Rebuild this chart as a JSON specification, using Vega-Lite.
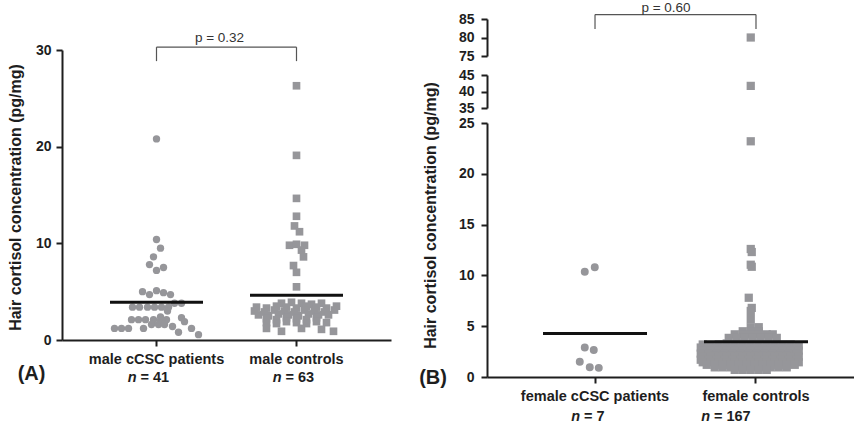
{
"$schema": "https://vega.github.io/schema/vega-lite/v6.json",
"background": "white",
"padding": {"left": 7, "top": 1, "right": 0, "bottom": 0},
"bounds": "flush",
"spacing": 96,
"config": {
  "font": "Liberation Sans",
  "view": {"stroke": null},
  "axis": {"grid": false, "domainColor": "#1e1e1e", "tickColor": "#1e1e1e", "labelColor": "#1e1e1e", "titleColor": "#1e1e1e", "domainWidth": 2, "tickWidth": 2, "tickSize": 6, "labelFont": "Liberation Sans", "titleFont": "Liberation Sans", "labelFontWeight": "bold", "titleFontWeight": "bold"},
  "axisX": {"labelFontSize": 14.5, "labelPadding": 6, "labelAngle": 0, "labelOverlap": false},
  "axisY": {"labelFontSize": 14, "titleFontSize": 16}
},
"datasets": {
  "A": [
    {"group":"male cCSC patients","cortisol":20.8,"jitter":0},
    {"group":"male cCSC patients","cortisol":10.4,"jitter":0},
    {"group":"male cCSC patients","cortisol":9.5,"jitter":4},
    {"group":"male cCSC patients","cortisol":8.6,"jitter":-3},
    {"group":"male cCSC patients","cortisol":7.8,"jitter":-7},
    {"group":"male cCSC patients","cortisol":7.2,"jitter":0},
    {"group":"male cCSC patients","cortisol":7.5,"jitter":7},
    {"group":"male cCSC patients","cortisol":5.0,"jitter":-14},
    {"group":"male cCSC patients","cortisol":4.7,"jitter":-7},
    {"group":"male cCSC patients","cortisol":5.1,"jitter":0},
    {"group":"male cCSC patients","cortisol":4.9,"jitter":7},
    {"group":"male cCSC patients","cortisol":4.7,"jitter":14},
    {"group":"male cCSC patients","cortisol":3.4,"jitter":-24},
    {"group":"male cCSC patients","cortisol":3.4,"jitter":-17},
    {"group":"male cCSC patients","cortisol":3.4,"jitter":-9},
    {"group":"male cCSC patients","cortisol":3.4,"jitter":-2},
    {"group":"male cCSC patients","cortisol":3.4,"jitter":5},
    {"group":"male cCSC patients","cortisol":3.4,"jitter":12},
    {"group":"male cCSC patients","cortisol":3.8,"jitter":18},
    {"group":"male cCSC patients","cortisol":3.8,"jitter":25},
    {"group":"male cCSC patients","cortisol":3.0,"jitter":11},
    {"group":"male cCSC patients","cortisol":2.4,"jitter":4},
    {"group":"male cCSC patients","cortisol":2.1,"jitter":-25},
    {"group":"male cCSC patients","cortisol":2.1,"jitter":-18},
    {"group":"male cCSC patients","cortisol":2.1,"jitter":-11},
    {"group":"male cCSC patients","cortisol":2.1,"jitter":-3},
    {"group":"male cCSC patients","cortisol":2.0,"jitter":4},
    {"group":"male cCSC patients","cortisol":2.1,"jitter":10},
    {"group":"male cCSC patients","cortisol":2.3,"jitter":25},
    {"group":"male cCSC patients","cortisol":1.9,"jitter":28},
    {"group":"male cCSC patients","cortisol":1.2,"jitter":-42},
    {"group":"male cCSC patients","cortisol":1.2,"jitter":-35},
    {"group":"male cCSC patients","cortisol":1.2,"jitter":-28},
    {"group":"male cCSC patients","cortisol":1.2,"jitter":-13},
    {"group":"male cCSC patients","cortisol":1.6,"jitter":-5},
    {"group":"male cCSC patients","cortisol":1.6,"jitter":2},
    {"group":"male cCSC patients","cortisol":1.6,"jitter":8},
    {"group":"male cCSC patients","cortisol":1.4,"jitter":16},
    {"group":"male cCSC patients","cortisol":0.8,"jitter":22},
    {"group":"male cCSC patients","cortisol":1.2,"jitter":35},
    {"group":"male cCSC patients","cortisol":0.55,"jitter":42},
    {"group":"male controls","cortisol":26.3,"jitter":0},
    {"group":"male controls","cortisol":19.1,"jitter":0},
    {"group":"male controls","cortisol":14.65,"jitter":0},
    {"group":"male controls","cortisol":12.8,"jitter":0},
    {"group":"male controls","cortisol":11.8,"jitter":-2},
    {"group":"male controls","cortisol":11.2,"jitter":3},
    {"group":"male controls","cortisol":9.8,"jitter":-7},
    {"group":"male controls","cortisol":9.9,"jitter":0},
    {"group":"male controls","cortisol":9.8,"jitter":8},
    {"group":"male controls","cortisol":9.3,"jitter":5},
    {"group":"male controls","cortisol":8.6,"jitter":7},
    {"group":"male controls","cortisol":7.7,"jitter":-3},
    {"group":"male controls","cortisol":7.0,"jitter":0},
    {"group":"male controls","cortisol":5.5,"jitter":0},
    {"group":"male controls","cortisol":3.8,"jitter":-15},
    {"group":"male controls","cortisol":3.9,"jitter":-5},
    {"group":"male controls","cortisol":3.8,"jitter":5},
    {"group":"male controls","cortisol":3.7,"jitter":15},
    {"group":"male controls","cortisol":3.8,"jitter":25},
    {"group":"male controls","cortisol":3.4,"jitter":-40},
    {"group":"male controls","cortisol":3.3,"jitter":-30},
    {"group":"male controls","cortisol":3.5,"jitter":-20},
    {"group":"male controls","cortisol":3.4,"jitter":-10},
    {"group":"male controls","cortisol":3.3,"jitter":0},
    {"group":"male controls","cortisol":3.5,"jitter":10},
    {"group":"male controls","cortisol":3.4,"jitter":20},
    {"group":"male controls","cortisol":3.3,"jitter":30},
    {"group":"male controls","cortisol":3.5,"jitter":40},
    {"group":"male controls","cortisol":3.0,"jitter":-42},
    {"group":"male controls","cortisol":2.9,"jitter":-32},
    {"group":"male controls","cortisol":3.1,"jitter":-22},
    {"group":"male controls","cortisol":3.0,"jitter":-12},
    {"group":"male controls","cortisol":2.9,"jitter":-2},
    {"group":"male controls","cortisol":3.1,"jitter":8},
    {"group":"male controls","cortisol":3.0,"jitter":18},
    {"group":"male controls","cortisol":2.9,"jitter":28},
    {"group":"male controls","cortisol":3.1,"jitter":38},
    {"group":"male controls","cortisol":2.6,"jitter":-38},
    {"group":"male controls","cortisol":2.5,"jitter":-28},
    {"group":"male controls","cortisol":2.7,"jitter":-18},
    {"group":"male controls","cortisol":2.6,"jitter":-8},
    {"group":"male controls","cortisol":2.5,"jitter":2},
    {"group":"male controls","cortisol":2.7,"jitter":12},
    {"group":"male controls","cortisol":2.6,"jitter":22},
    {"group":"male controls","cortisol":2.6,"jitter":32},
    {"group":"male controls","cortisol":2.2,"jitter":-30},
    {"group":"male controls","cortisol":2.1,"jitter":-20},
    {"group":"male controls","cortisol":2.3,"jitter":-10},
    {"group":"male controls","cortisol":2.2,"jitter":0},
    {"group":"male controls","cortisol":2.1,"jitter":10},
    {"group":"male controls","cortisol":2.3,"jitter":20},
    {"group":"male controls","cortisol":1.8,"jitter":-30},
    {"group":"male controls","cortisol":1.7,"jitter":-20},
    {"group":"male controls","cortisol":1.9,"jitter":-10},
    {"group":"male controls","cortisol":1.8,"jitter":0},
    {"group":"male controls","cortisol":1.7,"jitter":10},
    {"group":"male controls","cortisol":1.9,"jitter":20},
    {"group":"male controls","cortisol":1.8,"jitter":30},
    {"group":"male controls","cortisol":1.2,"jitter":-30},
    {"group":"male controls","cortisol":0.9,"jitter":-15},
    {"group":"male controls","cortisol":1.2,"jitter":5},
    {"group":"male controls","cortisol":1.1,"jitter":25},
    {"group":"male controls","cortisol":0.9,"jitter":37}
  ],
  "B": [
    {"group":"female cCSC patients","cortisol":10.35,"jitter":-5},
    {"group":"female cCSC patients","cortisol":10.8,"jitter":5},
    {"group":"female cCSC patients","cortisol":2.9,"jitter":-5},
    {"group":"female cCSC patients","cortisol":2.65,"jitter":4},
    {"group":"female cCSC patients","cortisol":1.5,"jitter":-10},
    {"group":"female cCSC patients","cortisol":0.95,"jitter":0},
    {"group":"female cCSC patients","cortisol":0.9,"jitter":9},
    {"group":"female controls","cortisol":80,"jitter":0},
    {"group":"female controls","cortisol":41.7,"jitter":0},
    {"group":"female controls","cortisol":23.2,"jitter":0},
    {"group":"female controls","cortisol":12.6,"jitter":0},
    {"group":"female controls","cortisol":12.3,"jitter":1},
    {"group":"female controls","cortisol":11.05,"jitter":0},
    {"group":"female controls","cortisol":10.85,"jitter":1},
    {"group":"female controls","cortisol":7.8,"jitter":-2},
    {"group":"female controls","cortisol":6.8,"jitter":1},
    {"group":"female controls","cortisol":6.5,"jitter":0},
    {"group":"female controls","cortisol":5.7,"jitter":0},
    {"group":"female controls","cortisol":4.9,"jitter":0},
    {"group":"female controls","cortisol":4.9,"jitter":8},
    {"group":"female controls","cortisol":4.5,"jitter":-8},
    {"group":"female controls","cortisol":4.5,"jitter":0},
    {"group":"female controls","cortisol":4.5,"jitter":8},
    {"group":"female controls","cortisol":4.2,"jitter":-16},
    {"group":"female controls","cortisol":4.2,"jitter":-8},
    {"group":"female controls","cortisol":4.2,"jitter":0},
    {"group":"female controls","cortisol":4.2,"jitter":8},
    {"group":"female controls","cortisol":4.2,"jitter":16},
    {"group":"female controls","cortisol":4.2,"jitter":22},
    {"group":"female controls","cortisol":3.85,"jitter":-22},
    {"group":"female controls","cortisol":3.85,"jitter":-14},
    {"group":"female controls","cortisol":3.85,"jitter":-6},
    {"group":"female controls","cortisol":3.85,"jitter":2},
    {"group":"female controls","cortisol":3.85,"jitter":10},
    {"group":"female controls","cortisol":3.85,"jitter":18},
    {"group":"female controls","cortisol":3.85,"jitter":26},
    {"group":"female controls","cortisol":3.2,"jitter":-48},
    {"group":"female controls","cortisol":3.1,"jitter":-40},
    {"group":"female controls","cortisol":3.2,"jitter":-32},
    {"group":"female controls","cortisol":3.3,"jitter":-24},
    {"group":"female controls","cortisol":3.2,"jitter":-16},
    {"group":"female controls","cortisol":3.3,"jitter":-8},
    {"group":"female controls","cortisol":3.2,"jitter":0},
    {"group":"female controls","cortisol":3.3,"jitter":8},
    {"group":"female controls","cortisol":3.2,"jitter":16},
    {"group":"female controls","cortisol":3.1,"jitter":24},
    {"group":"female controls","cortisol":3.2,"jitter":32},
    {"group":"female controls","cortisol":3.2,"jitter":40},
    {"group":"female controls","cortisol":3.1,"jitter":48},
    {"group":"female controls","cortisol":2.9,"jitter":-50},
    {"group":"female controls","cortisol":2.9,"jitter":-42},
    {"group":"female controls","cortisol":2.9,"jitter":-34},
    {"group":"female controls","cortisol":2.9,"jitter":-26},
    {"group":"female controls","cortisol":2.9,"jitter":-18},
    {"group":"female controls","cortisol":2.9,"jitter":-10},
    {"group":"female controls","cortisol":2.9,"jitter":-2},
    {"group":"female controls","cortisol":2.9,"jitter":6},
    {"group":"female controls","cortisol":2.9,"jitter":14},
    {"group":"female controls","cortisol":2.9,"jitter":22},
    {"group":"female controls","cortisol":2.9,"jitter":30},
    {"group":"female controls","cortisol":2.9,"jitter":38},
    {"group":"female controls","cortisol":2.9,"jitter":46},
    {"group":"female controls","cortisol":2.75,"jitter":-36},
    {"group":"female controls","cortisol":2.75,"jitter":-28},
    {"group":"female controls","cortisol":2.75,"jitter":-20},
    {"group":"female controls","cortisol":2.75,"jitter":-12},
    {"group":"female controls","cortisol":2.75,"jitter":-4},
    {"group":"female controls","cortisol":2.75,"jitter":4},
    {"group":"female controls","cortisol":2.75,"jitter":12},
    {"group":"female controls","cortisol":2.75,"jitter":20},
    {"group":"female controls","cortisol":2.75,"jitter":28},
    {"group":"female controls","cortisol":2.75,"jitter":36},
    {"group":"female controls","cortisol":2.6,"jitter":-48},
    {"group":"female controls","cortisol":2.6,"jitter":-40},
    {"group":"female controls","cortisol":2.6,"jitter":-32},
    {"group":"female controls","cortisol":2.6,"jitter":-24},
    {"group":"female controls","cortisol":2.6,"jitter":-16},
    {"group":"female controls","cortisol":2.6,"jitter":-8},
    {"group":"female controls","cortisol":2.6,"jitter":0},
    {"group":"female controls","cortisol":2.6,"jitter":8},
    {"group":"female controls","cortisol":2.6,"jitter":16},
    {"group":"female controls","cortisol":2.6,"jitter":24},
    {"group":"female controls","cortisol":2.6,"jitter":32},
    {"group":"female controls","cortisol":2.6,"jitter":40},
    {"group":"female controls","cortisol":2.6,"jitter":48},
    {"group":"female controls","cortisol":2.3,"jitter":-50},
    {"group":"female controls","cortisol":2.3,"jitter":-42},
    {"group":"female controls","cortisol":2.3,"jitter":-34},
    {"group":"female controls","cortisol":2.3,"jitter":-26},
    {"group":"female controls","cortisol":2.3,"jitter":-18},
    {"group":"female controls","cortisol":2.3,"jitter":-10},
    {"group":"female controls","cortisol":2.3,"jitter":-2},
    {"group":"female controls","cortisol":2.3,"jitter":6},
    {"group":"female controls","cortisol":2.3,"jitter":14},
    {"group":"female controls","cortisol":2.3,"jitter":22},
    {"group":"female controls","cortisol":2.3,"jitter":30},
    {"group":"female controls","cortisol":2.3,"jitter":38},
    {"group":"female controls","cortisol":2.3,"jitter":46},
    {"group":"female controls","cortisol":2.15,"jitter":-36},
    {"group":"female controls","cortisol":2.15,"jitter":-28},
    {"group":"female controls","cortisol":2.15,"jitter":-20},
    {"group":"female controls","cortisol":2.15,"jitter":-12},
    {"group":"female controls","cortisol":2.15,"jitter":-4},
    {"group":"female controls","cortisol":2.15,"jitter":4},
    {"group":"female controls","cortisol":2.15,"jitter":12},
    {"group":"female controls","cortisol":2.15,"jitter":20},
    {"group":"female controls","cortisol":2.15,"jitter":28},
    {"group":"female controls","cortisol":2.15,"jitter":36},
    {"group":"female controls","cortisol":2.0,"jitter":-48},
    {"group":"female controls","cortisol":2.0,"jitter":-40},
    {"group":"female controls","cortisol":2.0,"jitter":-32},
    {"group":"female controls","cortisol":2.0,"jitter":-24},
    {"group":"female controls","cortisol":2.0,"jitter":-16},
    {"group":"female controls","cortisol":2.0,"jitter":-8},
    {"group":"female controls","cortisol":2.0,"jitter":0},
    {"group":"female controls","cortisol":2.0,"jitter":8},
    {"group":"female controls","cortisol":2.0,"jitter":16},
    {"group":"female controls","cortisol":2.0,"jitter":24},
    {"group":"female controls","cortisol":2.0,"jitter":32},
    {"group":"female controls","cortisol":2.0,"jitter":40},
    {"group":"female controls","cortisol":2.0,"jitter":48},
    {"group":"female controls","cortisol":1.7,"jitter":-50},
    {"group":"female controls","cortisol":1.7,"jitter":-42},
    {"group":"female controls","cortisol":1.7,"jitter":-34},
    {"group":"female controls","cortisol":1.7,"jitter":-26},
    {"group":"female controls","cortisol":1.7,"jitter":-18},
    {"group":"female controls","cortisol":1.7,"jitter":-10},
    {"group":"female controls","cortisol":1.7,"jitter":-2},
    {"group":"female controls","cortisol":1.7,"jitter":6},
    {"group":"female controls","cortisol":1.7,"jitter":14},
    {"group":"female controls","cortisol":1.7,"jitter":22},
    {"group":"female controls","cortisol":1.7,"jitter":30},
    {"group":"female controls","cortisol":1.7,"jitter":38},
    {"group":"female controls","cortisol":1.7,"jitter":46},
    {"group":"female controls","cortisol":1.45,"jitter":-48},
    {"group":"female controls","cortisol":1.45,"jitter":-40},
    {"group":"female controls","cortisol":1.45,"jitter":-32},
    {"group":"female controls","cortisol":1.45,"jitter":-24},
    {"group":"female controls","cortisol":1.45,"jitter":-16},
    {"group":"female controls","cortisol":1.45,"jitter":-8},
    {"group":"female controls","cortisol":1.45,"jitter":0},
    {"group":"female controls","cortisol":1.45,"jitter":8},
    {"group":"female controls","cortisol":1.45,"jitter":16},
    {"group":"female controls","cortisol":1.45,"jitter":24},
    {"group":"female controls","cortisol":1.45,"jitter":32},
    {"group":"female controls","cortisol":1.45,"jitter":40},
    {"group":"female controls","cortisol":1.45,"jitter":48},
    {"group":"female controls","cortisol":1.2,"jitter":-44},
    {"group":"female controls","cortisol":1.2,"jitter":-36},
    {"group":"female controls","cortisol":1.2,"jitter":-28},
    {"group":"female controls","cortisol":1.2,"jitter":-20},
    {"group":"female controls","cortisol":1.2,"jitter":-12},
    {"group":"female controls","cortisol":1.2,"jitter":-4},
    {"group":"female controls","cortisol":1.2,"jitter":4},
    {"group":"female controls","cortisol":1.2,"jitter":12},
    {"group":"female controls","cortisol":1.2,"jitter":20},
    {"group":"female controls","cortisol":1.2,"jitter":28},
    {"group":"female controls","cortisol":1.2,"jitter":36},
    {"group":"female controls","cortisol":1.2,"jitter":44},
    {"group":"female controls","cortisol":0.95,"jitter":-36},
    {"group":"female controls","cortisol":0.95,"jitter":-28},
    {"group":"female controls","cortisol":0.95,"jitter":-20},
    {"group":"female controls","cortisol":0.95,"jitter":-12},
    {"group":"female controls","cortisol":0.95,"jitter":-4},
    {"group":"female controls","cortisol":0.95,"jitter":4},
    {"group":"female controls","cortisol":0.95,"jitter":12},
    {"group":"female controls","cortisol":0.95,"jitter":20},
    {"group":"female controls","cortisol":0.95,"jitter":28},
    {"group":"female controls","cortisol":0.95,"jitter":36},
    {"group":"female controls","cortisol":0.7,"jitter":-16},
    {"group":"female controls","cortisol":0.7,"jitter":-8},
    {"group":"female controls","cortisol":0.7,"jitter":0},
    {"group":"female controls","cortisol":0.7,"jitter":8},
    {"group":"female controls","cortisol":0.7,"jitter":16}
  ],
  "labA": [{"group":"male cCSC patients","n":"= 41"},{"group":"male controls","n":"= 63"}],
  "labB": [{"group":"female cCSC patients","n":"= 7"},{"group":"female controls","n":"= 167"}]
},
"hconcat": [
  {
    "width": 329,
    "height": 321,
    "layer": [
      {
        "data": {"name": "A"},
        "mark": {"type": "point", "filled": true, "opacity": 1, "color": "#96969a", "strokeWidth": 0},
        "encoding": {
          "x": {"field": "group", "type": "nominal", "scale": {"type": "band", "domain": ["male cCSC patients", "male controls"], "paddingInner": 0.5, "paddingOuter": 0.425, "align": 0.5}, "axis": {"title": null}},
          "xOffset": {"field": "jitter", "type": "quantitative", "scale": {"domain": [-50, 50], "range": [-15, 85]}},
          "y": {"field": "cortisol", "type": "quantitative", "scale": {"domain": [0, 30], "range": [321, 31], "nice": false, "zero": false}, "axis": {"values": [0, 10, 20, 30], "labelPadding": 5, "title": "Hair  cortisol  concentration  (pg/mg)", "titleX": -39, "titleY": 178, "titleAngle": -90, "titleBaseline": "bottom", "titleAlign": "center"}},
          "shape": {"field": "group", "type": "nominal", "scale": {"domain": ["male cCSC patients", "male controls", "female cCSC patients", "female controls"], "range": ["circle", "square", "circle", "square"]}, "legend": null},
          "size": {"field": "group", "type": "nominal", "scale": {"domain": ["male cCSC patients", "male controls", "female cCSC patients", "female controls"], "range": [54, 68, 54, 68]}, "legend": null}
        }
      },
      {
        "data": {"name": "A"},
        "mark": {"type": "tick", "size": 93, "thickness": 3, "color": "#111"},
        "encoding": {
          "x": {"field": "group", "type": "nominal", "axis": {"title": null}},
          "y": {"aggregate": "mean", "field": "cortisol", "type": "quantitative", "scale": {"domain": [0, 30], "range": [321, 31], "nice": false, "zero": false}}
        }
      },
      {
        "data": {"values": [{"p": "p = 0.32"}]},
        "layer": [
          {"mark": {"type": "rule", "color": "#555", "strokeWidth": 1.2},
           "encoding": {"x": {"datum": "male cCSC patients", "type": "nominal", "axis": {"title": null}}, "x2": {"datum": "male controls"}, "y": {"datum": 30.3, "type": "quantitative", "scale": {"domain": [0, 30], "range": [321, 31], "nice": false, "zero": false}}}},
          {"mark": {"type": "rule", "color": "#555", "strokeWidth": 1.2},
           "encoding": {"x": {"datum": "male cCSC patients", "type": "nominal", "axis": {"title": null}}, "y": {"datum": 30.3, "type": "quantitative"}, "y2": {"datum": 28.85}}},
          {"mark": {"type": "rule", "color": "#555", "strokeWidth": 1.2},
           "encoding": {"x": {"datum": "male controls", "type": "nominal", "axis": {"title": null}}, "y": {"datum": 30.3, "type": "quantitative"}, "y2": {"datum": 28.85}}},
          {"mark": {"type": "text", "fontSize": 13.5, "color": "#333", "dx": 63, "align": "center", "baseline": "middle"},
           "encoding": {"x": {"datum": "male cCSC patients", "type": "nominal", "axis": {"title": null}}, "y": {"datum": 31.2, "type": "quantitative"}, "text": {"field": "p"}}},
          {"mark": {"type": "text", "text": "(A)", "fontSize": 20, "fontWeight": "bold", "color": "#1e1e1e", "dx": -125, "dy": 34, "align": "center", "baseline": "middle"},
           "encoding": {"x": {"datum": "male cCSC patients", "type": "nominal", "axis": {"title": null}}, "y": {"datum": 0, "type": "quantitative"}}}
        ]
      },
      {
        "data": {"name": "labA"},
        "transform": [{"filter": "datum.group === 'male cCSC patients'"}],
        "layer": [
          {"mark": {"type": "text", "text": "n", "fontSize": 14.5, "fontStyle": "italic", "fontWeight": "bold", "color": "#1e1e1e", "align": "right", "baseline": "middle", "dx": -20, "dy": 38},
           "encoding": {"x": {"field": "group", "type": "nominal", "axis": {"title": null}}, "y": {"datum": 0, "type": "quantitative"}}},
          {"mark": {"type": "text", "fontSize": 14.5, "fontWeight": "bold", "color": "#1e1e1e", "align": "left", "baseline": "middle", "dx": -16, "dy": 38},
           "encoding": {"x": {"field": "group", "type": "nominal", "axis": {"title": null}}, "y": {"datum": 0, "type": "quantitative"}, "text": {"field": "n"}}}
        ]
      },
      {
        "data": {"name": "labA"},
        "transform": [{"filter": "datum.group === 'male controls'"}],
        "layer": [
          {"mark": {"type": "text", "text": "n", "fontSize": 14.5, "fontStyle": "italic", "fontWeight": "bold", "color": "#1e1e1e", "align": "right", "baseline": "middle", "dx": -15, "dy": 38},
           "encoding": {"x": {"field": "group", "type": "nominal", "axis": {"title": null}}, "y": {"datum": 0, "type": "quantitative"}}},
          {"mark": {"type": "text", "fontSize": 14.5, "fontWeight": "bold", "color": "#1e1e1e", "align": "left", "baseline": "middle", "dx": -11, "dy": 38},
           "encoding": {"x": {"field": "group", "type": "nominal", "axis": {"title": null}}, "y": {"datum": 0, "type": "quantitative"}, "text": {"field": "n"}}}
        ]
      }
    ]
  },
  {
    "width": 368,
    "height": 358,
    "resolve": {"scale": {"y": "independent"}, "axis": {"y": "independent"}},
    "layer": [
      {
        "data": {"name": "B"},
        "transform": [{"filter": "datum.cortisol <= 25"}],
        "mark": {"type": "point", "filled": true, "opacity": 1, "color": "#96969a", "strokeWidth": 0},
        "encoding": {
          "x": {"field": "group", "type": "nominal", "scale": {"type": "band", "domain": ["female cCSC patients", "female controls"], "paddingInner": 0.5, "paddingOuter": 0.393, "align": 0.5356}, "axis": {"title": null}},
          "xOffset": {"field": "jitter", "type": "quantitative", "scale": {"domain": [-50, 50], "range": [-9.75, 90.25]}},
          "y": {"field": "cortisol", "type": "quantitative", "scale": {"domain": [0, 25], "range": [358, 104], "nice": false, "zero": false}, "axis": {"orient": "left", "values": [0, 5, 10, 15, 20, 25], "labelPadding": 7, "title": "Hair  cortisol  concentration  (pg/mg)", "titleX": -49, "titleY": 196, "titleAngle": -90, "titleBaseline": "bottom", "titleAlign": "center"}},
          "shape": {"field": "group", "type": "nominal", "scale": {"domain": ["male cCSC patients", "male controls", "female cCSC patients", "female controls"], "range": ["circle", "square", "circle", "square"]}, "legend": null},
          "size": {"field": "group", "type": "nominal", "scale": {"domain": ["male cCSC patients", "male controls", "female cCSC patients", "female controls"], "range": [54, 68, 54, 68]}, "legend": null}
        }
      },
      {
        "data": {"name": "B"},
        "transform": [{"filter": "datum.cortisol >= 30 && datum.cortisol <= 50"}],
        "mark": {"type": "point", "filled": true, "opacity": 1, "color": "#96969a", "strokeWidth": 0},
        "encoding": {
          "x": {"field": "group", "type": "nominal", "axis": {"title": null}},
          "xOffset": {"field": "jitter", "type": "quantitative"},
          "y": {"field": "cortisol", "type": "quantitative", "scale": {"domain": [35, 45], "range": [89, 56], "nice": false, "zero": false}, "axis": {"orient": "left", "values": [35, 40, 45], "labelPadding": 7, "title": null}},
          "shape": {"field": "group", "type": "nominal", "legend": null},
          "size": {"field": "group", "type": "nominal", "legend": null}
        }
      },
      {
        "data": {"name": "B"},
        "transform": [{"filter": "datum.cortisol >= 70"}],
        "mark": {"type": "point", "filled": true, "opacity": 1, "color": "#96969a", "strokeWidth": 0},
        "encoding": {
          "x": {"field": "group", "type": "nominal", "axis": {"title": null}},
          "xOffset": {"field": "jitter", "type": "quantitative"},
          "y": {"field": "cortisol", "type": "quantitative", "scale": {"domain": [75, 85], "range": [37, 0], "nice": false, "zero": false}, "axis": {"orient": "left", "values": [75, 80, 85], "labelPadding": 7, "title": null}},
          "shape": {"field": "group", "type": "nominal", "legend": null},
          "size": {"field": "group", "type": "nominal", "legend": null}
        }
      },
      {
        "data": {"name": "B"},
        "mark": {"type": "tick", "size": 104, "thickness": 3, "color": "#111"},
        "encoding": {
          "x": {"field": "group", "type": "nominal", "axis": {"title": null}},
          "y": {"aggregate": "mean", "field": "cortisol", "type": "quantitative", "scale": {"domain": [0, 25], "range": [358, 104], "nice": false, "zero": false}, "axis": null}
        }
      },
      {
        "data": {"values": [{"p": "p = 0.60"}]},
        "mark": {"type": "rule", "color": "#555", "strokeWidth": 1.2},
        "encoding": {"x": {"datum": "female cCSC patients", "type": "nominal", "axis": {"title": null}}, "x2": {"datum": "female controls"}, "y": {"datum": 86.2, "type": "quantitative", "scale": {"domain": [75, 85], "range": [37, 0], "nice": false, "zero": false}, "axis": null}}
      },
      {
        "data": {"values": [{"p": "p = 0.60"}]},
        "mark": {"type": "rule", "color": "#555", "strokeWidth": 1.2},
        "encoding": {"x": {"datum": "female cCSC patients", "type": "nominal", "axis": {"title": null}}, "y": {"datum": 86.2, "type": "quantitative", "scale": {"domain": [75, 85], "range": [37, 0], "nice": false, "zero": false}, "axis": null}, "y2": {"datum": 82.3}}
      },
      {
        "data": {"values": [{"p": "p = 0.60"}]},
        "mark": {"type": "rule", "color": "#555", "strokeWidth": 1.2},
        "encoding": {"x": {"datum": "female controls", "type": "nominal", "axis": {"title": null}}, "y": {"datum": 86.2, "type": "quantitative", "scale": {"domain": [75, 85], "range": [37, 0], "nice": false, "zero": false}, "axis": null}, "y2": {"datum": 82.3}}
      },
      {
        "data": {"values": [{"p": "p = 0.60"}]},
        "mark": {"type": "text", "fontSize": 13.5, "color": "#333", "dx": 71, "align": "center", "baseline": "middle"},
        "encoding": {"x": {"datum": "female cCSC patients", "type": "nominal", "axis": {"title": null}}, "y": {"datum": 87.9, "type": "quantitative", "scale": {"domain": [75, 85], "range": [37, 0], "nice": false, "zero": false}, "axis": null}, "text": {"field": "p"}}
      },
      {
        "data": {"values": [{"p": "(B)"}]},
        "mark": {"type": "text", "fontSize": 20, "fontWeight": "bold", "color": "#1e1e1e", "dx": -162, "dy": 1, "align": "center", "baseline": "middle"},
        "encoding": {"x": {"datum": "female cCSC patients", "type": "nominal", "axis": {"title": null}}, "y": {"datum": 0, "type": "quantitative", "scale": {"domain": [0, 25], "range": [358, 104], "nice": false, "zero": false}, "axis": null}, "text": {"field": "p"}}
      },
      {
        "data": {"name": "labB"},
        "transform": [{"filter": "datum.group === 'female cCSC patients'"}],
        "mark": {"type": "text", "text": "n", "fontSize": 14.5, "fontStyle": "italic", "fontWeight": "bold", "color": "#1e1e1e", "align": "right", "baseline": "middle", "dx": -15, "dy": 40},
        "encoding": {"x": {"field": "group", "type": "nominal", "axis": {"title": null}}, "y": {"datum": 0, "type": "quantitative", "scale": {"domain": [0, 25], "range": [358, 104], "nice": false, "zero": false}, "axis": null}}
      },
      {
        "data": {"name": "labB"},
        "transform": [{"filter": "datum.group === 'female cCSC patients'"}],
        "mark": {"type": "text", "fontSize": 14.5, "fontWeight": "bold", "color": "#1e1e1e", "align": "left", "baseline": "middle", "dx": -11, "dy": 40},
        "encoding": {"x": {"field": "group", "type": "nominal", "axis": {"title": null}}, "y": {"datum": 0, "type": "quantitative", "scale": {"domain": [0, 25], "range": [358, 104], "nice": false, "zero": false}, "axis": null}, "text": {"field": "n"}}
      },
      {
        "data": {"name": "labB"},
        "transform": [{"filter": "datum.group === 'female controls'"}],
        "mark": {"type": "text", "text": "n", "fontSize": 14.5, "fontStyle": "italic", "fontWeight": "bold", "color": "#1e1e1e", "align": "right", "baseline": "middle", "dx": -46, "dy": 40},
        "encoding": {"x": {"field": "group", "type": "nominal", "axis": {"title": null}}, "y": {"datum": 0, "type": "quantitative", "scale": {"domain": [0, 25], "range": [358, 104], "nice": false, "zero": false}, "axis": null}}
      },
      {
        "data": {"name": "labB"},
        "transform": [{"filter": "datum.group === 'female controls'"}],
        "mark": {"type": "text", "fontSize": 14.5, "fontWeight": "bold", "color": "#1e1e1e", "align": "left", "baseline": "middle", "dx": -42, "dy": 40},
        "encoding": {"x": {"field": "group", "type": "nominal", "axis": {"title": null}}, "y": {"datum": 0, "type": "quantitative", "scale": {"domain": [0, 25], "range": [358, 104], "nice": false, "zero": false}, "axis": null}, "text": {"field": "n"}}
      }
    ]
  }
]
}
